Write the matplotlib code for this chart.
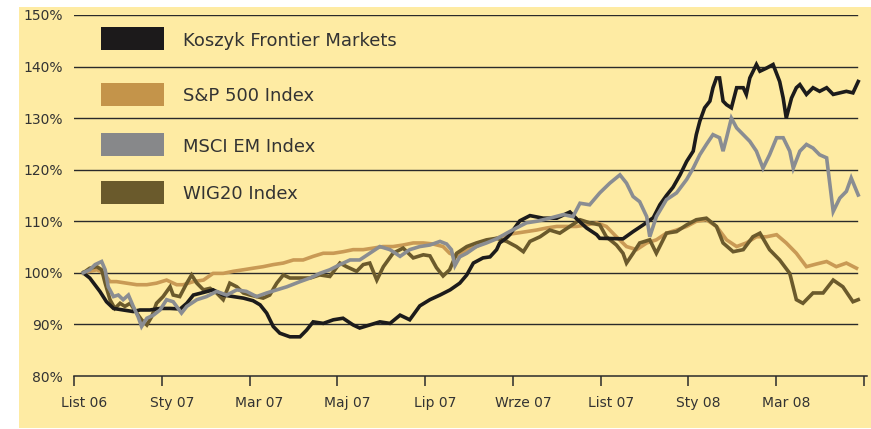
import matplotlib
matplotlib.use('Agg')
import matplotlib.pyplot as plt
import matplotlib.transforms as mtransforms
from matplotlib.patches import Rectangle

# months since 1 Nov 2006, value in % of the start level
koszyk_m = [0.21, 0.36, 0.59, 0.74, 0.90, 1.12, 1.35, 1.50, 1.73, 1.96, 2.19, 2.42, 2.57, 2.72, 2.95,
            3.17, 3.40, 3.63, 3.86, 4.08, 4.24, 4.39, 4.54, 4.69, 4.92, 5.15, 5.30, 5.45, 5.68, 5.91,
            6.13, 6.36, 6.51, 6.74, 6.97, 7.20, 7.43, 7.65, 7.88, 8.11, 8.34, 8.57, 8.79, 8.95, 9.10,
            9.32, 9.48, 9.63, 9.70, 9.86, 9.93, 10.16, 10.39, 10.69, 11.00, 11.30, 11.45, 11.68, 11.91,
            11.98, 12.51, 12.74, 12.97, 13.20, 13.35, 13.50, 13.65, 13.81, 13.96, 14.11, 14.18, 14.26,
            14.37, 14.49, 14.56, 14.64, 14.71, 14.79, 14.87, 14.98, 15.10, 15.25, 15.32, 15.40, 15.55,
            15.63, 15.78, 15.93, 16.08, 16.16, 16.23, 16.35, 16.46, 16.54, 16.69, 16.84, 16.99, 17.15,
            17.30, 17.45, 17.60, 17.75, 17.87]
koszyk = [100.0, 99.0, 96.4, 94.4, 93.1, 92.8, 92.5, 92.8, 92.8, 93.1, 93.1, 93.0, 94.1, 95.7, 96.2,
          96.7, 95.7, 95.4, 95.1, 94.6, 93.8, 92.2, 89.6, 88.3, 87.6, 87.6, 88.9, 90.5, 90.2, 90.9,
          91.2, 89.9, 89.3, 89.9, 90.5, 90.2, 91.8, 90.9, 93.6, 94.8, 95.7, 96.7, 98.0, 99.6, 101.9,
          102.9, 103.1, 104.5, 105.8, 106.8, 107.4, 110.1, 111.1, 110.6, 110.6, 111.8, 110.5, 108.7, 107.4,
          106.7, 106.6, 108.0, 109.3, 110.7, 113.2, 115.0, 116.6, 119.0, 121.6, 123.6, 126.8, 129.4,
          132.0, 133.3, 135.9, 137.8, 137.8, 133.3, 132.6, 132.0, 135.9, 135.9, 134.6, 137.8, 140.4,
          139.1, 139.7, 140.4, 137.1, 133.9, 130.0, 133.9, 135.9, 136.5, 134.6, 135.9, 135.2, 135.9,
          134.6, 134.9, 135.2, 134.9, 137.1]

sp500_m = [0.21, 0.52, 0.67, 0.82, 0.97, 1.20, 1.43, 1.66, 1.88, 2.11, 2.34, 2.49, 2.72, 2.95, 3.17,
           3.40, 3.63, 3.86, 4.08, 4.31, 4.54, 4.77, 5.00, 5.22, 5.45, 5.68, 5.91, 6.13, 6.36, 6.59,
           6.82, 7.04, 7.27, 7.50, 7.73, 7.96, 8.18, 8.41, 8.56, 8.72, 8.95, 9.17, 9.40, 9.63, 9.86,
           10.08, 10.31, 10.54, 10.77, 11.00, 11.22, 11.45, 11.68, 11.91, 12.13, 12.36, 12.59, 12.82,
           13.05, 13.27, 13.50, 13.73, 13.96, 14.18, 14.41, 14.64, 14.87, 15.10, 15.32, 15.55, 15.78,
           16.01, 16.23, 16.46, 16.69, 16.91, 17.15, 17.37, 17.60, 17.83]
sp500 = [100.0, 100.6, 100.0, 98.3, 98.3, 98.0, 97.7, 97.7, 98.0, 98.6, 97.7, 97.7, 98.3, 98.6, 99.9,
         99.9, 100.3, 100.6, 100.9, 101.2, 101.6, 101.9, 102.5, 102.5, 103.2, 103.8, 103.8, 104.1, 104.5, 104.5,
         104.8, 105.1, 105.1, 105.4, 105.8, 105.8, 105.6, 105.1, 103.8, 103.2, 104.5, 105.1, 106.1, 106.7, 107.4,
         107.7, 108.0, 108.3, 108.7, 109.0, 109.0, 109.0, 109.3, 109.7, 109.0, 107.0, 105.1, 104.5,
         105.8, 106.4, 107.7, 108.3, 109.0, 110.0, 110.3, 109.0, 106.4, 105.1, 105.8, 107.0, 107.0,
         107.4, 105.8, 103.8, 101.2, 101.7, 102.2, 101.2, 101.9, 100.9]

msci_m = [0.21, 0.36, 0.48, 0.63, 0.71, 0.78, 0.90, 1.01, 1.12, 1.24, 1.35, 1.46, 1.54, 1.66, 1.81,
          1.96, 2.11, 2.26, 2.45, 2.57, 2.80, 3.02, 3.25, 3.48, 3.71, 3.93, 4.16, 4.39, 4.62, 4.85,
          5.15, 5.38, 5.60, 5.83, 6.06, 6.29, 6.51, 6.74, 6.97, 7.20, 7.43, 7.65, 7.88, 8.11, 8.34,
          8.49, 8.60, 8.68, 8.79, 8.95, 9.17, 9.40, 9.63, 9.86, 10.08, 10.31, 10.54, 10.84, 11.15,
          11.37, 11.53, 11.75, 11.98, 12.21, 12.44, 12.59, 12.74, 12.89, 13.05, 13.12, 13.27, 13.50,
          13.73, 13.96, 14.11, 14.26, 14.41, 14.56, 14.71, 14.79, 14.87, 14.98, 15.10, 15.25, 15.40,
          15.55, 15.70, 15.85, 16.01, 16.16, 16.31, 16.39, 16.54, 16.69, 16.84, 16.99, 17.15, 17.30,
          17.45, 17.60, 17.71, 17.87]
msci = [100.0, 100.6, 101.6, 102.2, 100.6, 97.3, 95.4, 95.7, 94.8, 95.7, 93.5, 91.5, 89.6, 91.2, 91.8,
        92.8, 94.8, 94.4, 92.2, 93.5, 94.8, 95.4, 96.4, 95.7, 96.7, 96.4, 95.4, 96.1, 96.7, 97.3,
        98.3, 99.0, 99.9, 100.6, 101.6, 102.5, 102.5, 103.8, 105.1, 104.5, 103.2, 104.5, 105.1, 105.4, 106.1,
        105.6, 104.5, 101.4, 103.1, 103.8, 105.1, 105.8, 106.6, 107.7, 108.7, 109.7, 110.0, 110.6, 111.3,
        110.9, 113.5, 113.2, 115.5, 117.4, 119.0, 117.4, 114.8, 113.8, 110.9, 107.0, 110.9, 114.2,
        115.5, 118.1, 120.3, 122.9, 124.9, 126.8, 126.2, 123.6, 126.2, 130.0, 128.1, 126.8, 125.5,
        123.6, 120.3, 122.9, 126.2, 126.2, 123.6, 120.3, 123.6, 124.9, 124.2, 122.9, 122.3, 111.9,
        114.5, 115.8, 118.4, 115.1]

wig20_m = [0.21, 0.36, 0.52, 0.63, 0.71, 0.82, 0.93, 1.05, 1.16, 1.28, 1.43, 1.54, 1.66, 1.77, 1.88,
           2.03, 2.19, 2.26, 2.41, 2.57, 2.68, 2.80, 2.95, 3.10, 3.25, 3.40, 3.55, 3.71, 3.86, 4.01,
           4.16, 4.31, 4.46, 4.62, 4.77, 4.92, 5.15, 5.38, 5.60, 5.83, 6.06, 6.21, 6.44, 6.59, 6.74,
           6.90, 7.05, 7.27, 7.50, 7.73, 7.96, 8.11, 8.26, 8.41, 8.56, 8.72, 8.95, 9.17, 9.40, 9.63,
           9.86, 10.08, 10.24, 10.39, 10.62, 10.84, 11.07, 11.30, 11.53, 11.75, 11.98, 12.13, 12.36,
           12.51, 12.59, 12.74, 12.89, 13.12, 13.27, 13.50, 13.73, 13.96, 14.18, 14.41, 14.64, 14.79,
           15.02, 15.25, 15.47, 15.63, 15.85, 16.08, 16.31, 16.46, 16.61, 16.84, 17.07, 17.30, 17.52,
           17.75, 17.87]
wig20 = [100.0, 100.9, 101.2, 100.6, 98.0, 94.8, 93.1, 94.1, 93.5, 94.1, 92.2, 90.9, 89.9, 91.5, 94.1,
         95.4, 97.3, 95.7, 95.4, 98.0, 99.6, 98.0, 96.7, 97.0, 96.1, 94.8, 98.0, 97.3, 96.1, 95.7,
         95.4, 95.1, 95.7, 98.0, 99.6, 99.0, 99.0, 99.0, 99.6, 99.3, 101.9, 101.2, 100.3, 101.6, 101.9,
         98.6, 101.2, 103.8, 104.8, 102.9, 103.5, 103.3, 101.0, 99.4, 100.6, 103.8, 105.1, 105.8, 106.4, 106.7,
         106.1, 105.1, 104.1, 106.1, 107.0, 108.3, 107.7, 109.0, 110.3, 109.7, 109.3, 107.0, 105.4,
         103.8, 101.9, 103.8, 105.8, 106.4, 103.8, 107.7, 108.0, 109.3, 110.3, 110.6, 109.0, 105.8,
         104.1, 104.5, 107.0, 107.7, 104.5, 102.5, 99.9, 94.8, 94.1, 96.1, 96.1, 98.6, 97.3,
         94.4, 94.8]

tick_months = [0, 2, 4, 6, 8, 10, 12, 14, 16, 18]
tick_labels = ['List 06', 'Sty 07', 'Mar 07', 'Maj 07', 'Lip 07', 'Wrze 07', 'List 07', 'Sty 08', 'Mar 08', '']
y_ticks = [80, 90, 100, 110, 120, 130, 140, 150]

names = ['Koszyk Frontier Markets', 'S&P 500 Index', 'MSCI EM Index', 'WIG20 Index']
line_colors = ['#1c1b1b', '#c99a55', '#8a8d92', '#6b5a2c']
patch_colors = ['#1c1a1b', '#c4944a', '#87888a', '#6a5a2c']

BG = '#feeba3'
DARK = '#2a2a2a'
TXT = '#333333'

W, H = 871, 429
fig = plt.figure(figsize=(W / 100, H / 100), dpi=100)
fig.patch.set_facecolor('white')
bg = Rectangle((19 / W, 1 / H), 1 - 19 / W, 1 - 8 / H, transform=fig.transFigure,
               facecolor=BG, edgecolor='none', zorder=-10)
fig.add_artist(bg)

ax = fig.add_axes([74 / W, 53 / H, (867 - 74) / W, (414 - 53) / H])
ax.set_facecolor('none')
ax.set_zorder(1)
ax.set_xlim(0, 18.07)
ax.set_ylim(80, 150)

for y in y_ticks[1:]:
    ax.axhline(y, xmin=0, xmax=0.988, color=DARK, lw=1.0, zorder=1)

# drawing order: S&P at the bottom, MSCI on top
series = [(sp500_m, sp500, 1), (wig20_m, wig20, 3), (koszyk_m, koszyk, 0), (msci_m, msci, 2)]
for z, (xs, ys, i) in enumerate(series):
    ax.plot(xs, ys, color=line_colors[i], lw=2.6, solid_joinstyle='miter', zorder=3 + z)

for side in ['top', 'right', 'left']:
    ax.spines[side].set_visible(False)
ax.spines['bottom'].set_color(DARK)
ax.spines['bottom'].set_linewidth(1.1)

ax.set_yticks(y_ticks)
ax.set_yticklabels(['%d%%' % v for v in y_ticks])
ax.tick_params(axis='y', length=0, pad=8, labelsize=10, labelcolor=TXT)
ax.set_xticks(tick_months)
ax.set_xticklabels(tick_labels)
ax.tick_params(axis='x', direction='out', length=7.5, width=1.1, color=DARK, pad=7,
               labelsize=10, labelcolor=TXT)
offset = mtransforms.ScaledTranslation(0.1, 0, fig.dpi_scale_trans)
for lab in ax.get_xticklabels():
    lab.set_transform(lab.get_transform() + offset)

# legend drawn by hand: boxes with labels, top-left of the plot
legend_y = [38.5, 94, 144.5, 192]
for i, name in enumerate(names):
    yc = legend_y[i]
    fig.add_artist(Rectangle((101 / W, 1 - (yc + 11.5) / H), 63 / W, 23 / H,
                             transform=fig.transFigure, facecolor=patch_colors[i],
                             edgecolor='none', zorder=5))
    fig.text(183 / W, 1 - (yc + 2) / H, name, fontsize=13, color=TXT, va='center', ha='left',
             zorder=6)

fig.savefig('out.png', dpi=100)
